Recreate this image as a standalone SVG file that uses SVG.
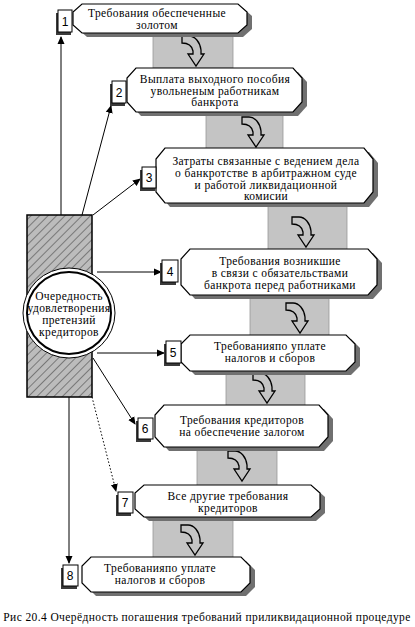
<svg xmlns="http://www.w3.org/2000/svg" width="415" height="627" viewBox="0 0 415 627">
<style>
.bar{fill:#c4c4c4;stroke:#9a9a9a;stroke-width:0.8}
.box{fill:#fff;stroke:#000;stroke-width:1.2}
.shadow{fill:#707070}
.num{fill:#fff;stroke:#000;stroke-width:1}
.numsh{fill:#3a3a3a}
.t{font-size:11.5px;fill:#000;text-anchor:middle;letter-spacing:0.4px}
.n{font-family:"Liberation Sans",Arial,sans-serif;font-size:12px;fill:#000;text-anchor:middle}
.curve{fill:none;stroke:#000;stroke-width:1.3;stroke-linejoin:miter}
.con{fill:none;stroke:#000;stroke-width:1}
</style>
<defs>
<pattern id="hatch" width="6" height="6" patternUnits="userSpaceOnUse" patternTransform="rotate(45)">
<rect width="6" height="6" fill="#bcbcbc"/>
<line x1="0" y1="0" x2="0" y2="6" stroke="#4a4a4a" stroke-width="1.2"/>
</pattern>
<marker id="ah" markerWidth="8" markerHeight="8" refX="7" refY="4" orient="auto" markerUnits="userSpaceOnUse">
<path d="M0,0.5 L8,4 L0,7.5 Z" fill="#000"/>
</marker>
<path id="carrow" d="M-14,-30 L-7,-30 C-1,-30 4,-24 5,-16 L5,-12 L8,-12 L0,0 L-8,-12 L-3,-12 L-3,-15 C-4,-20 -8,-23 -14,-23 Z"/>
</defs>

<g id="bars">
<rect class="bar" x="153" y="33" width="80" height="35"/>
<rect class="bar" x="206" y="110" width="77" height="40"/>
<rect class="bar" x="268" y="203" width="79" height="47"/>
<rect class="bar" x="250" y="295" width="79" height="41"/>
<rect class="bar" x="226" y="371" width="79" height="35"/>
<rect class="bar" x="197" y="447" width="80" height="39"/>
<rect class="bar" x="153" y="517" width="80" height="41"/>
<use href="#carrow" class="curve" x="196" y="66"/>
<use href="#carrow" class="curve" x="256" y="147"/>
<use href="#carrow" class="curve" x="306" y="247"/>
<use href="#carrow" class="curve" x="300" y="333"/>
<use href="#carrow" class="curve" x="267" y="403"/>
<use href="#carrow" class="curve" x="242" y="481"/>
<use href="#carrow" class="curve" x="195" y="555"/>
</g>

<g id="connectors">
<line class="con" x1="61" y1="215" x2="61" y2="37" marker-end="url(#ah)"/>
<line class="con" x1="82" y1="215" x2="111" y2="106" marker-end="url(#ah)"/>
<line class="con" x1="93" y1="215" x2="140" y2="179" marker-end="url(#ah)"/>
<line class="con" x1="97" y1="272" x2="161" y2="272" marker-end="url(#ah)"/>
<line class="con" x1="97" y1="353" x2="164" y2="353" marker-end="url(#ah)"/>
<line class="con" x1="93" y1="358" x2="135" y2="424" marker-end="url(#ah)"/>
<line class="con" x1="92" y1="397" x2="116" y2="491" stroke-dasharray="1.5,2" marker-end="url(#ah)"/>
<line class="con" x1="69" y1="397" x2="69" y2="563" marker-end="url(#ah)"/>
</g>

<g font-family="'Liberation Serif', 'DejaVu Serif', 'Times New Roman', serif">
<g id="center">
<rect x="27" y="215" width="65" height="182" fill="url(#hatch)" stroke="#000" stroke-width="1.5"/>
<ellipse cx="69" cy="313" rx="46" ry="45" fill="#fff" stroke="#000" stroke-width="1"/>
<ellipse cx="69" cy="313" rx="42" ry="41" fill="#fff" stroke="#000" stroke-width="2"/>
<text class="t" x="69" y="300" letter-spacing="0">Очередность</text>
<text class="t" x="69" y="312" letter-spacing="0">удовлетворения</text>
<text class="t" x="69" y="324" letter-spacing="0">претензий</text>
<text class="t" x="69" y="336" letter-spacing="0">кредиторов</text>
</g>

<g id="node1">
<polygon class="shadow" transform="translate(5,4)" points="82,4 238,4 247,12 247,25 238,33 82,33 73,25 73,12"/>
<polygon class="box" points="82,4 238,4 247,12 247,25 238,33 82,33 73,25 73,12"/>
<text class="t" x="157" y="17">Требования обеспеченные</text>
<text class="t" x="157" y="29">золотом</text>
<rect class="numsh" x="56" y="13" width="15" height="22"/>
<rect class="num" x="58" y="10" width="14" height="22"/>
<text class="n" x="65" y="26">1</text>
</g>

<g id="node2">
<polygon class="shadow" transform="translate(5,4)" points="136,68 293,68 302,78 302,102 293,112 136,112 127,102 127,78"/>
<polygon class="box" points="136,68 293,68 302,78 302,102 293,112 136,112 127,102 127,78"/>
<text class="t" x="215" y="83">Выплата выходного пособия</text>
<text class="t" x="215" y="94.5">увольненым работникам</text>
<text class="t" x="215" y="106">банкрота</text>
<rect class="numsh" x="110" y="84" width="15" height="22"/>
<rect class="num" x="112" y="81" width="14" height="22"/>
<text class="n" x="119" y="97">2</text>
</g>

<g id="node3">
<polygon class="shadow" transform="translate(5,4)" points="165,148 364,148 373,159 373,192 364,203 165,203 156,192 156,159"/>
<polygon class="box" points="165,148 364,148 373,159 373,192 364,203 165,203 156,192 156,159"/>
<text class="t" x="266" y="165">Затраты связанные с ведением дела</text>
<text class="t" x="266" y="177">о банкротстве в арбитражном суде</text>
<text class="t" x="266" y="189">и работой ликвидационной</text>
<text class="t" x="266" y="200">комисии</text>
<rect class="numsh" x="140" y="170" width="15" height="21"/>
<rect class="num" x="142" y="167" width="14" height="21"/>
<text class="n" x="149" y="182">3</text>
</g>

<g id="node4">
<polygon class="shadow" transform="translate(5,4)" points="190,249 368,249 377,259 377,285 368,295 190,295 181,285 181,259"/>
<polygon class="box" points="190,249 368,249 377,259 377,285 368,295 190,295 181,285 181,259"/>
<text class="t" x="280" y="265">Требования возникшие</text>
<text class="t" x="280" y="277">в связи с обязательствами</text>
<text class="t" x="280" y="289">банкрота перед работниками</text>
<rect class="numsh" x="160" y="263" width="16" height="22"/>
<rect class="num" x="162" y="260" width="16" height="22"/>
<text class="n" x="170" y="276">4</text>
</g>

<g id="node5">
<polygon class="shadow" transform="translate(5,4)" points="190,335 346,335 355,344 355,362 346,371 190,371 181,362 181,344"/>
<polygon class="box" points="190,335 346,335 355,344 355,362 346,371 190,371 181,362 181,344"/>
<text class="t" x="270" y="350">Требованияпо уплате</text>
<text class="t" x="270" y="362">налогов и сборов</text>
<rect class="numsh" x="164" y="344" width="16" height="22"/>
<rect class="num" x="166" y="341" width="15" height="22"/>
<text class="n" x="173" y="357">5</text>
</g>

<g id="node6">
<polygon class="shadow" transform="translate(5,4)" points="164,405 319,405 328,415 328,437 319,447 164,447 155,437 155,415"/>
<polygon class="box" points="164,405 319,405 328,415 328,437 319,447 164,447 155,437 155,415"/>
<text class="t" x="242" y="424">Требования кредиторов</text>
<text class="t" x="242" y="436">на обеспечение залогом</text>
<rect class="numsh" x="136" y="421" width="15" height="21"/>
<rect class="num" x="138" y="418" width="15" height="21"/>
<text class="n" x="145" y="433">6</text>
</g>

<g id="node7">
<polygon class="shadow" transform="translate(5,4)" points="144,485 311,485 320,493 320,509 311,517 144,517 135,509 135,493"/>
<polygon class="box" points="144,485 311,485 320,493 320,509 311,517 144,517 135,509 135,493"/>
<text class="t" x="228" y="500">Все другие требования</text>
<text class="t" x="228" y="512">кредиторов</text>
<rect class="numsh" x="116" y="495" width="15" height="21"/>
<rect class="num" x="118" y="492" width="15" height="21"/>
<text class="n" x="125" y="507">7</text>
</g>

<g id="node8">
<polygon class="shadow" transform="translate(5,4)" points="91,557 241,557 250,566 250,583 241,592 91,592 82,583 82,566"/>
<polygon class="box" points="91,557 241,557 250,566 250,583 241,592 91,592 82,583 82,566"/>
<text class="t" x="160" y="572">Требованияпо уплате</text>
<text class="t" x="160" y="584">налогов и сборов</text>
<rect class="numsh" x="61" y="568" width="16" height="21"/>
<rect class="num" x="63" y="565" width="15" height="21"/>
<text class="n" x="70" y="580">8</text>
</g>

<text id="caption" class="t" x="207" y="621" font-size="12.5">Рис 20.4 Очерёдность погашения требований приликвидационной процедуре</text>
</g>
</svg>
